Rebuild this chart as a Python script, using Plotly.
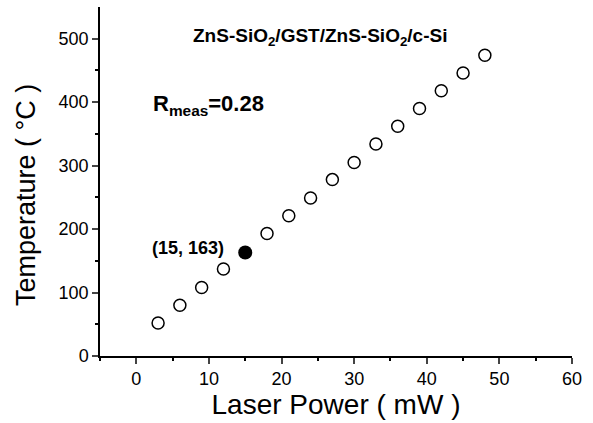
import plotly.graph_objects as go

power = [3, 6, 9, 12, 18, 21, 24, 27, 30, 33, 36, 39, 42, 45, 48]
temperature = [52, 80, 108, 137, 193, 221, 249, 278, 305, 334, 362, 390, 418, 446, 474]
hl_power = [15]
hl_temp = [163]

fig = go.Figure()
fig.add_trace(go.Scatter(x=power, y=temperature, mode="markers",
                         marker=dict(symbol="circle-open", size=12, color="black", line=dict(width=1.5)),
                         showlegend=False))
fig.add_trace(go.Scatter(x=hl_power, y=hl_temp, mode="markers",
                         marker=dict(symbol="circle", size=14, color="black"),
                         showlegend=False))

font = "Liberation Sans, Arial, sans-serif"
fig.update_layout(
    width=593, height=423,
    margin=dict(l=100, r=21, t=7, b=67),
    plot_bgcolor="white", paper_bgcolor="white",
    font=dict(family=font, color="black"),
    xaxis=dict(range=[-5, 60], tickvals=[0, 10, 20, 30, 40, 50, 60], ticks="outside", ticklen=6,
               tickwidth=1.5, showgrid=False, zeroline=False, showline=True, linecolor="black",
               linewidth=1.5, tickfont=dict(size=18),
               minor=dict(tickvals=[-5, 5, 15, 25, 35, 45, 55], ticks="outside", ticklen=3, tickcolor="black"),
               title=dict(text="Laser Power ( mW )", font=dict(size=28), standoff=6)),
    yaxis=dict(range=[0, 550], tickvals=[0, 100, 200, 300, 400, 500], ticks="outside", ticklen=6,
               tickwidth=1.5, showgrid=False, zeroline=False, showline=True, linecolor="black",
               linewidth=1.5, tickfont=dict(size=18),
               minor=dict(tickvals=[50, 150, 250, 350, 450], ticks="outside", ticklen=3, tickcolor="black")),
)
fig.add_annotation(x=-0.157, xref="paper", y=0.461, yref="paper", xanchor="center", yanchor="middle",
                   text="Temperature ( °C )", textangle=-90, showarrow=False, font=dict(size=27))
fig.add_annotation(x=0.466, xref="paper", y=502, yref="y", xanchor="center", yanchor="middle",
                   text="<b>ZnS-SiO<sub>2</sub>/GST/ZnS-SiO<sub>2</sub>/c-Si</b>", showarrow=False,
                   font=dict(size=19))
fig.add_annotation(x=2.0, y=396, xanchor="left", yanchor="middle",
                   text="<b>R<sub>meas</sub>=0.28</b>", showarrow=False, font=dict(size=22))
fig.add_annotation(x=12.3, y=170, xanchor="right", yanchor="middle",
                   text="<b>(15, 163)</b>", showarrow=False, font=dict(size=18))

fig.write_html("out.html")
